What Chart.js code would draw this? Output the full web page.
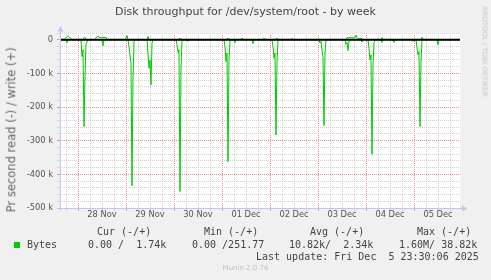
<!DOCTYPE html>
<html>
<head>
<meta charset="utf-8">
<title>Disk throughput for /dev/system/root - by week</title>
<script src="https://cdn.jsdelivr.net/npm/chart.js@4/dist/chart.umd.min.js"></script>
<style>
  body { margin: 0; background: #f0f0f0; }
  #wrap { position: relative; width: 491px; height: 280px; overflow: hidden; font-family: "DejaVu Sans", sans-serif; }
  #wrap canvas { position: absolute; left: 0; top: 0; }
  .t { position: absolute; white-space: pre; line-height: 1; }
  .title { left: 0; width: 491px; top: 6px; text-align: center; font-size: 11px; color: #444; }
  .ylabel { left: -88px; top: 124px; width: 200px; text-align: center; font-size: 11.5px; color: #666; transform: rotate(-90deg); }
  .mark { left: 424px; top: 48px; width: 120px; text-align: center; font-size: 7px; color: #c4c4c4; transform: rotate(90deg); }
  .mono { font-family: "DejaVu Sans Mono", monospace; font-size: 10px; color: #444; }
  .ver { left: 0; width: 491px; top: 265px; text-align: center; font-size: 7px; color: #c0c0c0; }
  .swatch { position: absolute; left: 14px; top: 242px; width: 6px; height: 6px; background: #00cc00; }
</style>
</head>
<body>
<div id="wrap">
  <canvas id="chart" width="491" height="280"></canvas>
  <div class="t title">Disk throughput for /dev/system/root - by week</div>
  <div class="t ylabel">Pr second read (-) / write (+)</div>
  <div class="t mark">RRDTOOL / TOBI OETIKER</div>
  <div class="t mono" style="left:97px;top:227px">Cur (-/+)</div>
  <div class="t mono" style="left:204px;top:227px">Min (-/+)</div>
  <div class="t mono" style="left:310px;top:227px">Avg (-/+)</div>
  <div class="t mono" style="left:417px;top:227px">Max (-/+)</div>
  <div class="swatch"></div>
  <div class="t mono" style="left:27px;top:240px">Bytes</div>
  <div class="t mono" style="left:88px;top:240px">0.00 /  1.74k</div>
  <div class="t mono" style="left:192px;top:240px">0.00 /251.77</div>
  <div class="t mono" style="left:289px;top:240px">10.82k/  2.34k</div>
  <div class="t mono" style="left:399px;top:240px">1.60M/ 38.82k</div>
  <div class="t mono" style="left:256px;top:252px">Last update: Fri Dec  5 23:30:06 2025</div>
  <div class="t ver">Munin 2.0.76</div>
</div>
<script>
// hours since 28 Nov 00:00, bytes per second
const dayLabels = ["28 Nov", "29 Nov", "30 Nov", "01 Dec", "02 Dec", "03 Dec", "04 Dec", "05 Dec"];

const readBytes = [
  [-9, 0], [-6, 0], [-5.5, -9000], [-5, 0],
  [1.5, 0], [2, -50000], [2.5, -30000], [3, -258000], [3.5, -110000], [4, -10000], [4.5, -8000], [5, 0],
  [12, 0], [12.5, -18000], [13, 0],
  [25, 0], [25.5, -20000], [26, -45000], [26.5, -70000], [27, -434000], [27.5, -120000], [28, -5000], [28.5, 0],
  [34.5, 0], [35, -40000], [35.5, -85000], [36, -60000], [36.5, -134000], [37, -10000], [37.5, 0],
  [49, 0], [49.5, -15000], [50, -38000], [50.5, -30000], [51, -451000], [51.5, -90000], [52, 0],
  [54.5, 0], [55, -5000], [55.5, 0],
  [73, 0], [73.5, -20000], [74, -65000], [74.5, -40000], [75, -362000], [75.5, -60000], [76, 0],
  [78, 0], [78.5, -9000], [79, 0],
  [87, 0], [87.5, -12000], [88, 0],
  [97, 0], [97.5, -20000], [98, -55000], [98.5, -40000], [99, -283000], [99.5, -70000], [100, 0],
  [120.5, 0], [121, -10000], [121.5, -5000], [122, -30000], [122.5, -52000], [123, -255000], [123.5, -40000], [124, 0],
  [133.5, 0], [134, -14000], [134.5, -8000], [135, -32000], [135.5, -5000], [136, 0],
  [141.5, 0], [142, -7000], [142.5, 0],
  [145, 0], [145.5, -25000], [146, -60000], [146.5, -45000], [147, -340000], [147.5, -80000], [148, -10000], [148.5, 0],
  [151.5, 0], [152, -8000], [152.5, 0],
  [157.5, 0], [158, -8000], [158.5, 0],
  [167, 0], [167.5, -5000], [168, 0],
  [169, 0], [169.5, -25000], [170, -45000], [170.5, -35000], [171, -258000], [171.5, -70000], [172, 0],
  [179.5, 0], [180, -15000], [180.5, 0],
  [188, 0], [188.5, -3000], [189, 0],
  [191, 0]
];

const writeBytes = [
  [-9, 0], [-7, 0], [-5, 12000], [-3.5, 3000], [-3, 0],
  [2, 0], [3.3, 8000], [4, 0],
  [8.5, 0], [9, 6000], [10, 11000], [10.5, 7000], [14, 7000], [14.5, 0],
  [23.5, 0], [24.5, 12000], [25, 0],
  [34.5, 0], [35, 10000], [35.5, 0],
  [50.5, 0], [51, 5000], [51.5, 0],
  [74.5, 0], [75, 5000], [75.5, 0],
  [81.5, 0], [82, 5000], [82.5, 0],
  [92.5, 0], [93, 5000], [93.5, 0],
  [99, 0], [99.5, 5000], [100, 0],
  [106.5, 0], [107, 4000], [107.5, 0],
  [134, 0], [134.5, 6000], [138.5, 6000], [139, 14000], [139.5, 6000], [140, 3000], [142, 3000], [142.5, 0],
  [151.5, 0], [152, 6000], [152.5, 0],
  [171.5, 0], [172, 7000], [172.5, 0],
  [191, 0]
];

const zeroLine = [[-9, 0], [191, 0]];

const hourTicks = [];
for (let h = -6; h <= 186; h += 6) hourTicks.push(h);
const byteTicks = [];
for (let v = -500000; v <= 20000; v += 20000) byteTicks.push(v);

const green = "#00cc00";
const majorGrid = "#f08a8a";
const minorGrid = "#d2d2d2";
const toXY = (arr) => arr.map(([x, y]) => ({ x, y }));

const plotBg = {
  id: "plotBg",
  beforeDraw(chart) {
    const { ctx, chartArea: a } = chart;
    ctx.save();
    ctx.fillStyle = "#ffffff";
    ctx.fillRect(a.left, a.top, a.right - a.left, a.bottom - a.top);
    ctx.restore();
  }
};

const axisArrows = {
  id: "axisArrows",
  afterDraw(chart) {
    const { ctx, chartArea: a } = chart;
    ctx.save();
    ctx.strokeStyle = "#c4c4f0";
    ctx.fillStyle = "#c4c4f0";
    ctx.lineWidth = 1;
    ctx.beginPath();
    ctx.moveTo(a.left + 0.5, a.bottom + 3);
    ctx.lineTo(a.left + 0.5, a.top - 2);
    ctx.moveTo(a.left - 3, a.bottom + 0.5);
    ctx.lineTo(a.right + 2, a.bottom + 0.5);
    ctx.stroke();
    ctx.beginPath();
    ctx.moveTo(a.left - 2.5, a.top - 1.5);
    ctx.lineTo(a.left + 3.5, a.top - 1.5);
    ctx.lineTo(a.left + 0.5, a.top - 7);
    ctx.closePath();
    ctx.fill();
    ctx.beginPath();
    ctx.moveTo(a.right + 2, a.bottom - 2.5);
    ctx.lineTo(a.right + 2, a.bottom + 3.5);
    ctx.lineTo(a.right + 7.5, a.bottom + 0.5);
    ctx.closePath();
    ctx.fill();
    ctx.restore();
  }
};

const tickFont = { family: "DejaVu Sans", size: 8.3, lineHeight: 1 };

new Chart(document.getElementById("chart").getContext("2d"), {
  type: "line",
  data: {
    datasets: [
      { label: "zero", data: toXY(zeroLine), borderColor: "#000000", borderWidth: 2, pointRadius: 0 },
      { label: "read", data: toXY(readBytes), borderColor: green, borderWidth: 1, pointRadius: 0 },
      { label: "write", data: toXY(writeBytes), borderColor: green, borderWidth: 1, pointRadius: 0 }
    ]
  },
  options: {
    responsive: false,
    animation: false,
    layout: { padding: { left: 20, right: 31, top: 33, bottom: 0 } },
    plugins: { legend: { display: false }, tooltip: { enabled: false }, title: { display: false } },
    scales: {
      x: {
        type: "linear",
        min: -9,
        max: 191,
        afterBuildTicks: (s) => { s.ticks = hourTicks.map((v) => ({ value: v })); },
        afterFit: (s) => { s.height = 72; },
        grid: {
          color: (c) => (c.tick && c.tick.value % 24 === 0 ? majorGrid : minorGrid),
          lineWidth: 1,
          tickLength: 3
        },
        border: { display: false, dash: [1, 1] },
        ticks: {
          autoSkip: false,
          maxRotation: 0,
          padding: 0,
          color: "#555",
          font: tickFont,
          callback: (v) => (((v % 24) + 24) % 24 === 12 ? dayLabels[(v - 12) / 24] : "")
        }
      },
      y: {
        min: -500000,
        max: 20000,
        afterBuildTicks: (s) => { s.ticks = byteTicks.map((v) => ({ value: v })); },
        afterFit: (s) => { s.width = 40; },
        grid: {
          color: (c) => (c.tick && c.tick.value % 100000 === 0 ? majorGrid : minorGrid),
          lineWidth: 1,
          tickLength: 3
        },
        border: { display: false, dash: [1, 1] },
        ticks: {
          autoSkip: false,
          padding: 4,
          color: "#555",
          font: tickFont,
          callback: (v) => (v % 100000 === 0 ? (v === 0 ? "0" : v / 1000 + " k") : "")
        }
      }
    }
  },
  plugins: [plotBg, axisArrows]
});
</script>
</body>
</html>
